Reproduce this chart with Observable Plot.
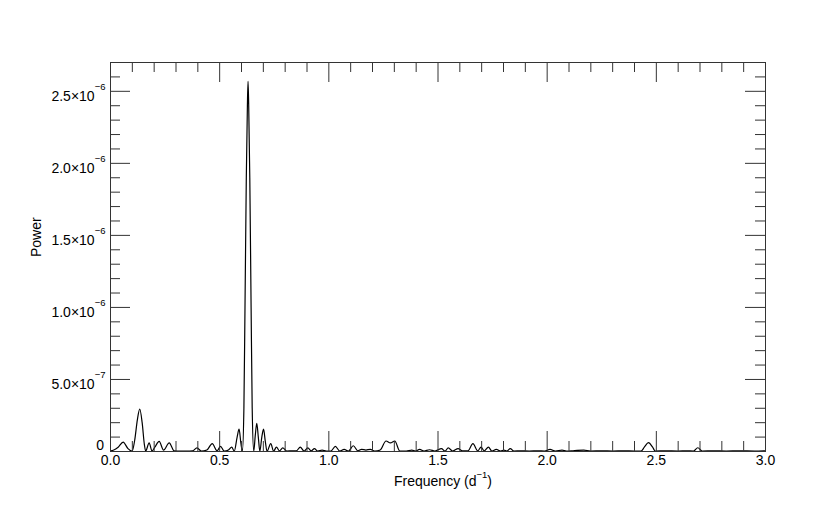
<!DOCTYPE html>
<html>
<head>
<meta charset="utf-8">
<script src="https://cdn.jsdelivr.net/npm/d3@7"></script>
<script src="https://cdn.jsdelivr.net/npm/@observablehq/plot@0.6"></script>
<style>
  html, body { margin: 0; padding: 0; background: #ffffff; }
</style>
</head>
<body>
<div id="chart"></div>
<script>
// ---- data ----
const frequency = [
  0.000, 0.015, 0.035, 0.058, 0.080, 0.099, 0.111, 0.123, 0.134, 0.145,
  0.155, 0.161, 0.177, 0.190, 0.203, 0.223, 0.243, 0.269, 0.291, 0.320,
  0.350, 0.376, 0.396, 0.416, 0.441, 0.466, 0.488, 0.504, 0.521, 0.540,
  0.555, 0.567, 0.580, 0.589, 0.597, 0.604, 0.611, 0.616, 0.622, 0.627,
  0.630, 0.633, 0.638, 0.644, 0.649, 0.656, 0.663, 0.670, 0.677, 0.684,
  0.693, 0.701, 0.709, 0.717, 0.734, 0.747, 0.760, 0.774, 0.789, 0.807,
  0.833, 0.851, 0.869, 0.887, 0.904, 0.919, 0.934, 0.949, 0.969, 0.989,
  1.009, 1.030, 1.050, 1.070, 1.090, 1.112, 1.133, 1.150, 1.170, 1.190,
  1.210, 1.235, 1.262, 1.282, 1.302, 1.325, 1.355, 1.380, 1.396, 1.416,
  1.436, 1.461, 1.486, 1.516, 1.532, 1.547, 1.567, 1.592, 1.612, 1.637,
  1.660, 1.682, 1.697, 1.712, 1.731, 1.747, 1.767, 1.787, 1.802, 1.815,
  1.831, 1.848, 1.878, 1.918, 1.958, 1.988, 2.013, 2.038, 2.068, 2.088,
  2.118, 2.168, 2.198, 2.250, 2.300, 2.350, 2.400, 2.430, 2.445, 2.464,
  2.483, 2.495, 2.540, 2.600, 2.640, 2.670, 2.690, 2.710, 2.760, 2.820,
  2.880, 2.950, 3.000
];
const power = [
  0.5e-8, 1.0e-8, 3.0e-8, 6.5e-8, 2.0e-8, 0.2e-8, 8.0e-8, 2.2e-7, 2.95e-7, 2.0e-7,
  5.0e-8, 0.3e-8, 6.0e-8, 0.3e-8, 3.0e-8, 7.0e-8, 1.0e-8, 6.0e-8, 0.5e-8, 0.3e-8,
  0.3e-8, 0.5e-8, 2.5e-8, 0.3e-8, 1.0e-8, 5.5e-8, 0.5e-8, 3.5e-8, 0.3e-8, 1.0e-8,
  3.0e-8, 0.3e-8, 1.0e-7, 1.55e-7, 0.6e-7, 0.2e-8, 3.0e-7, 1.0e-6, 1.9e-6, 2.4e-6,
  2.57e-6, 2.4e-6, 1.9e-6, 1.0e-6, 3.0e-7, 0.2e-8, 1.1e-7, 1.96e-7, 1.0e-7, 0.2e-8,
  1.0e-7, 1.55e-7, 0.7e-7, 0.2e-8, 5.5e-8, 0.3e-8, 3.0e-8, 0.5e-8, 2.5e-8, 0.3e-8,
  0.5e-8, 0.5e-8, 3.0e-8, 0.3e-8, 2.5e-8, 0.5e-8, 2.0e-8, 0.3e-8, 1.0e-8, 0.3e-8,
  0.3e-8, 3.5e-8, 0.3e-8, 1.5e-8, 0.3e-8, 4.0e-8, 0.5e-8, 1.5e-8, 1.0e-8, 1.5e-8,
  0.3e-8, 1.0e-8, 7.3e-8, 6.0e-8, 7.3e-8, 0.3e-8, 0.3e-8, 1.0e-8, 0.3e-8, 1.5e-8,
  0.3e-8, 1.2e-8, 0.3e-8, 2.0e-8, 0.3e-8, 2.5e-8, 0.3e-8, 2.0e-8, 0.5e-8, 0.5e-8,
  5.5e-8, 0.5e-8, 3.0e-8, 0.5e-8, 3.0e-8, 0.3e-8, 1.5e-8, 0.3e-8, 1.0e-8, 0.3e-8,
  2.0e-8, 0.3e-8, 0.5e-8, 0.3e-8, 0.5e-8, 0.3e-8, 1.5e-8, 0.3e-8, 1.0e-8, 0.3e-8,
  0.5e-8, 1.0e-8, 0.3e-8, 0.5e-8, 0.3e-8, 0.5e-8, 0.3e-8, 0.3e-8, 3.0e-8, 6.1e-8,
  3.0e-8, 0.3e-8, 0.5e-8, 0.3e-8, 0.5e-8, 0.3e-8, 2.6e-8, 0.3e-8, 0.5e-8, 0.3e-8,
  0.5e-8, 0.3e-8, 0.5e-8
];

// ---- axes ----
const xMajorTicks = [0, 0.5, 1.0, 1.5, 2.0, 2.5, 3.0];
const xTickLabels = ["0.0", "0.5", "1.0", "1.5", "2.0", "2.5", "3.0"];
const xMinorTicks = [0.1, 0.2, 0.3, 0.4, 0.6, 0.7, 0.8, 0.9, 1.1, 1.2, 1.3, 1.4,
  1.6, 1.7, 1.8, 1.9, 2.1, 2.2, 2.3, 2.4, 2.6, 2.7, 2.8, 2.9];
const yMajorTicks = [0, 5e-7, 1.0e-6, 1.5e-6, 2.0e-6, 2.5e-6];
const yTickLabels = ["0", "5.0×10^{−7}", "1.0×10^{−6}", "1.5×10^{−6}", "2.0×10^{−6}", "2.5×10^{−6}"];
const yMinorTicks = [1e-7, 2e-7, 3e-7, 4e-7, 6e-7, 7e-7, 8e-7, 9e-7, 1.1e-6, 1.2e-6,
  1.3e-6, 1.4e-6, 1.6e-6, 1.7e-6, 1.8e-6, 1.9e-6, 2.1e-6, 2.2e-6, 2.3e-6, 2.4e-6, 2.6e-6];
const xLabel = "Frequency (d^{−1})";
const yLabel = "Power";

// ---- layout ----
const W = 830, H = 520;
const mL = 110, mR = 65, mT = 62, mB = 69;
const fw = W - mL - mR, fh = H - mT - mB;
const majorLen = 20, minorLen = 10;
const axisColor = "#333";

const series = frequency.map((f, i) => ({f, p: power[i]}));
const xTickTable = xMajorTicks.map((v, i) => ({v, label: xTickLabels[i]}));
const yTickTable = yMajorTicks.map((v, i) => ({v, label: yTickLabels[i]}));

const chart = Plot.plot({
  width: W, height: H,
  marginLeft: mL, marginRight: mR, marginTop: mT, marginBottom: mB,
  style: {fontFamily: "'Liberation Sans', Arial, Helvetica, sans-serif", fontSize: "14px", background: "#ffffff", color: "#000"},
  x: {domain: [0, 3], axis: null},
  y: {domain: [0, 2.7e-6], axis: null},
  marks: [
    Plot.line(series, {x: "f", y: "p", curve: "monotone-x", stroke: "#000", strokeWidth: 1.2, clip: true}),
    // bottom ticks (inward)
    Plot.tickX(xMajorTicks, {x: d => d, insetTop: fh - majorLen, stroke: axisColor}),
    Plot.tickX(xMinorTicks, {x: d => d, insetTop: fh - minorLen, stroke: axisColor}),
    // top ticks (inward)
    Plot.tickX(xMajorTicks, {x: d => d, insetBottom: fh - majorLen, stroke: axisColor}),
    Plot.tickX(xMinorTicks, {x: d => d, insetBottom: fh - minorLen, stroke: axisColor}),
    // left ticks
    Plot.tickY(yMajorTicks, {y: d => d, insetRight: fw - majorLen, stroke: axisColor}),
    Plot.tickY(yMinorTicks, {y: d => d, insetRight: fw - minorLen, stroke: axisColor}),
    // right ticks
    Plot.tickY(yMajorTicks, {y: d => d, insetLeft: fw - majorLen, stroke: axisColor}),
    Plot.tickY(yMinorTicks, {y: d => d, insetLeft: fw - minorLen, stroke: axisColor}),
    Plot.frame({stroke: axisColor}),
    // x tick labels
    Plot.text(xTickTable, {x: "v", text: "label", frameAnchor: "bottom", dy: 13, fill: "#000"}),
    // y tick labels
    Plot.text(yTickTable.filter(d => d.v !== 0), {y: "v", text: "label", frameAnchor: "left", textAnchor: "end", dx: -5, dy: 5, fill: "#000"}),
    Plot.text(yTickTable.filter(d => d.v === 0), {y: "v", text: "label", frameAnchor: "left", textAnchor: "end", dx: -6.5, dy: -6, fill: "#000"}),
    // axis titles
    Plot.text([xLabel], {text: d => d, frameAnchor: "bottom", dy: 34, dx: 5, fill: "#000"}),
    Plot.text([yLabel], {text: d => d, frameAnchor: "left", rotate: -90, dx: -74, fill: "#000"})
  ]
});

// turn "base^{exp}suffix" into real superscript tspans
d3.select(chart).selectAll("text").each(function() {
  const t = this.textContent;
  const m = t.match(/^(.*)\^\{(.*?)\}(.*)$/);
  if (!m) return;
  const raise = m[3] ? 8 : 10.5;
  const el = d3.select(this);
  el.text(null);
  el.append("tspan").text(m[1]);
  el.append("tspan").attr("dy", -raise).attr("font-size", "9.5px").text(m[2]);
  if (m[3]) el.append("tspan").attr("dy", raise).text(m[3]);
});

document.getElementById("chart").appendChild(chart);
</script>
</body>
</html>
